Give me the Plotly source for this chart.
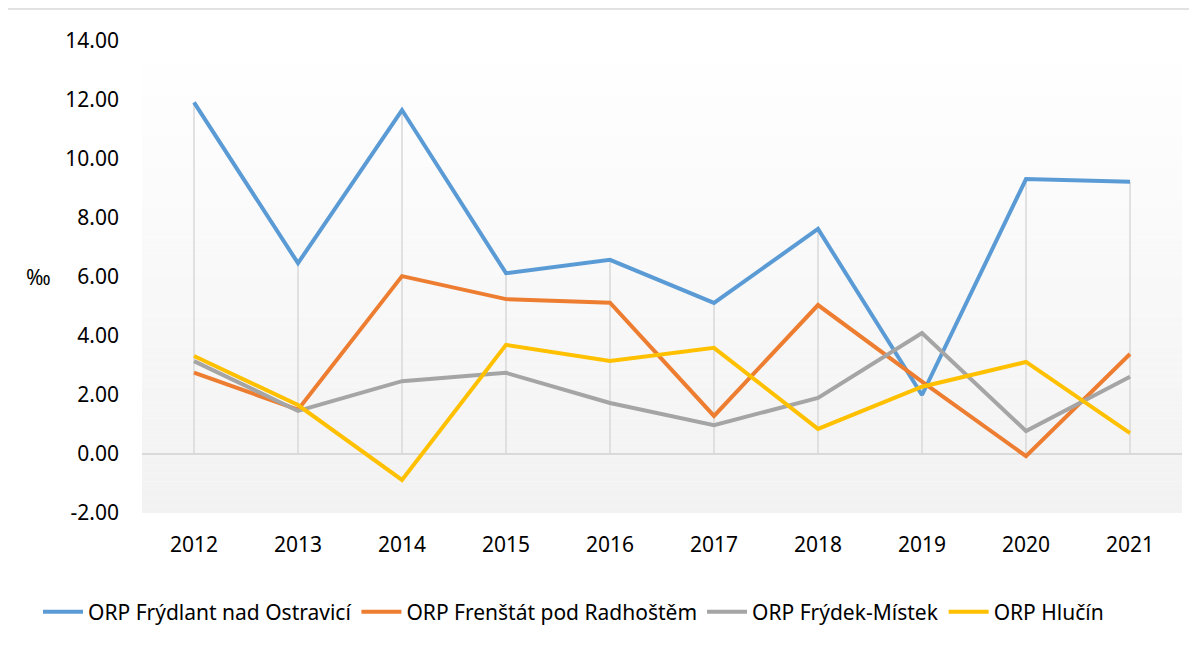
import plotly.graph_objects as go

# data (per mille)
years = ["2012", "2013", "2014", "2015", "2016", "2017", "2018", "2019", "2020", "2021"]
frydlant = [11.92, 6.47, 11.66, 6.13, 6.58, 5.12, 7.63, 2.00, 9.32, 9.23]
frenstat = [2.76, 1.50, 6.03, 5.25, 5.13, 1.29, 5.05, 2.45, -0.07, 3.39]
frydek = [3.15, 1.46, 2.47, 2.75, 1.73, 0.98, 1.90, 4.10, 0.78, 2.62]
hlucin = [3.32, 1.66, -0.88, 3.70, 3.15, 3.60, 0.85, 2.28, 3.12, 0.71]

names = ["ORP Frýdlant nad Ostravicí", "ORP Frenštát pod Radhoštěm",
         "ORP Frýdek-Místek", "ORP Hlučín"]
colors = ["#5B9BD5", "#ED7D31", "#A5A5A5", "#FFC000"]
series = [frydlant, frenstat, frydek, hlucin]

y_ticks = [-2, 0, 2, 4, 6, 8, 10, 12, 14]
y_labels = ["-2.00", "0.00", "2.00", "4.00", "6.00", "8.00", "10.00", "12.00", "14.00"]

FONT = "Noto Sans"

fig = go.Figure()

# drop lines (Excel style): from the highest point of each year down to 0
drop_x, drop_y = [], []
for i, yr in enumerate(years):
    top = max(s[i] for s in series)
    drop_x += [yr, yr, None]
    drop_y += [0, top, None]
fig.add_trace(go.Scatter(x=drop_x, y=drop_y, mode="lines",
                         line=dict(color="#d9d9d9", width=1.5),
                         showlegend=False, hoverinfo="skip"))

for name, col, vals in zip(names, colors, series):
    fig.add_trace(go.Scatter(x=years, y=vals, name=name, mode="lines",
                             line=dict(color=col, width=4)))

# gradient plot background: white -> light gray
shapes = []
n = 60
for k in range(n):
    t = k / (n - 1)
    c = int(round(255 - (255 - 242) * t))
    shapes.append(dict(type="rect", xref="paper", yref="paper",
                       x0=0, x1=1, y0=1 - (k + 1) / n, y1=1 - k / n,
                       fillcolor=f"rgb({c},{c},{c})", line_width=0,
                       layer="below"))

# chart border (top and left only visible)
shapes.append(dict(type="line", xref="paper", yref="paper",
                   x0=-0.1298, x1=1.02, y0=1.0678, y1=1.0678,
                   line=dict(color="#d9d9d9", width=1.5)))
shapes.append(dict(type="line", xref="paper", yref="paper",
                   x0=-0.1298, x1=-0.1298, y0=-0.3, y1=1.0678,
                   line=dict(color="#d9d9d9", width=1.5)))

# page body has an 8px margin, so the figure is shrunk/shifted by that
fig.update_layout(
    width=1189, height=642,
    margin=dict(l=134, r=15, t=33, b=137, autoexpand=False),
    paper_bgcolor="white", plot_bgcolor="rgba(0,0,0,0)",
    font=dict(family=FONT, size=20, color="#000000"),
    shapes=shapes,
    showlegend=True,
    legend=dict(orientation="h", x=-0.1, xanchor="left",
                y=-0.21, yanchor="middle",
                font=dict(size=21), itemwidth=40, tracegroupgap=0),
    annotations=[dict(text="‰", xref="paper", yref="paper",
                      x=-0.1, y=(6 + 2) / 16, xanchor="center",
                      yanchor="middle", showarrow=False,
                      font=dict(size=21))],
)

fig.update_xaxes(type="category", range=[-0.5, 9.5], showgrid=False,
                 showline=False, ticks="", ticklabelstandoff=17,
                 tickfont=dict(size=21))
fig.update_yaxes(range=[-2, 14], tickvals=y_ticks, ticktext=y_labels,
                 showgrid=False,
                 zeroline=True, zerolinecolor="#d9d9d9", zerolinewidth=1.5,
                 showline=False, ticks="", ticklabelstandoff=22,
                 tickfont=dict(size=21))

fig.write_html("out.html")
